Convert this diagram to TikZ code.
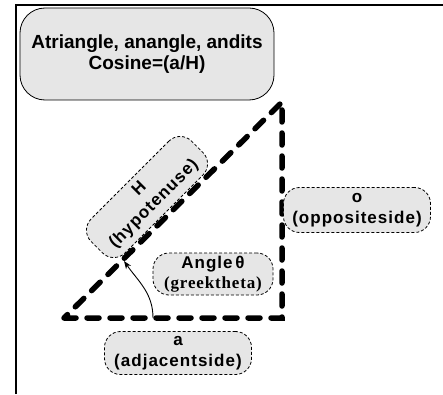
\documentclass[tikz,border=0pt]{standalone}
\usepackage{fontspec}
\setmainfont{Liberation Sans}[LetterSpace=6]
\newfontfamily\titlefont{Liberation Sans}
\newfontfamily\serifbf{Liberation Serif}[LetterSpace=5]
\usetikzlibrary{arrows.meta}
\definecolor{boxgray}{RGB}{230,230,230}
\begin{document}
\begin{tikzpicture}[x=1pt,y=1pt,
  titlebox/.style={draw=black, line width=0.8pt, fill=boxgray, rounded corners=25pt, align=center,
    font=\titlefont\bfseries\fontsize{19}{20.5}\selectfont, minimum width=254pt, minimum height=92pt, inner sep=0pt},
  lbl/.style={draw=black, dash pattern=on 3pt off 2pt, line width=0.8pt, fill=boxgray, rounded corners=16pt,
    align=center, font=\bfseries\fontsize{17}{20.5}\selectfont, inner sep=0pt},
  tri/.style={line width=5.5pt, dash pattern=on 12pt off 11pt, line cap=round, line join=miter},
  frameline/.style={line width=2pt},
  conn/.style={line width=0.9pt, -{Stealth[length=8pt,width=6pt]}}
]
\useasboundingbox (0,0) rectangle (443,394);
% frame (left and top only)
\coordinate (f1) at (15.5,0);
\coordinate (f2) at (15.5,388.5);
\coordinate (f3) at (443,388.5);
\draw[frameline] (f1) -- (f2) -- (f3);
% title
\node[titlebox] (title) at (147,340) {Atriangle, anangle, andits\\Cosine=(a/H)};
% triangle
\coordinate (A) at (64,76);
\coordinate (B) at (282,76);
\coordinate (C) at (282,292);
\draw[tri] (A) -- (B) -- (C) -- cycle;
% labels
\node[lbl, rotate=45, minimum width=142pt, minimum height=48pt] (hyp) at (147,197) {H\\(hypotenuse)};
\node[lbl, minimum width=147pt, minimum height=45pt] (opp) at (357,184) {o\\(oppositeside)};
\node[lbl, minimum width=120pt, minimum height=42pt] (ang) at (213,120) {Angle\,θ\\{\serifbf\bfseries (greektheta)}};
\node[lbl, minimum width=147pt, minimum height=43pt] (adj) at (178,41) {a\\(adjacentside)};
% arrow
\coordinate (s) at (153,76);
\coordinate (e) at (124,133);
\draw[conn] (s) to[out=90, in=-55] (e);
\end{tikzpicture}
\end{document}
